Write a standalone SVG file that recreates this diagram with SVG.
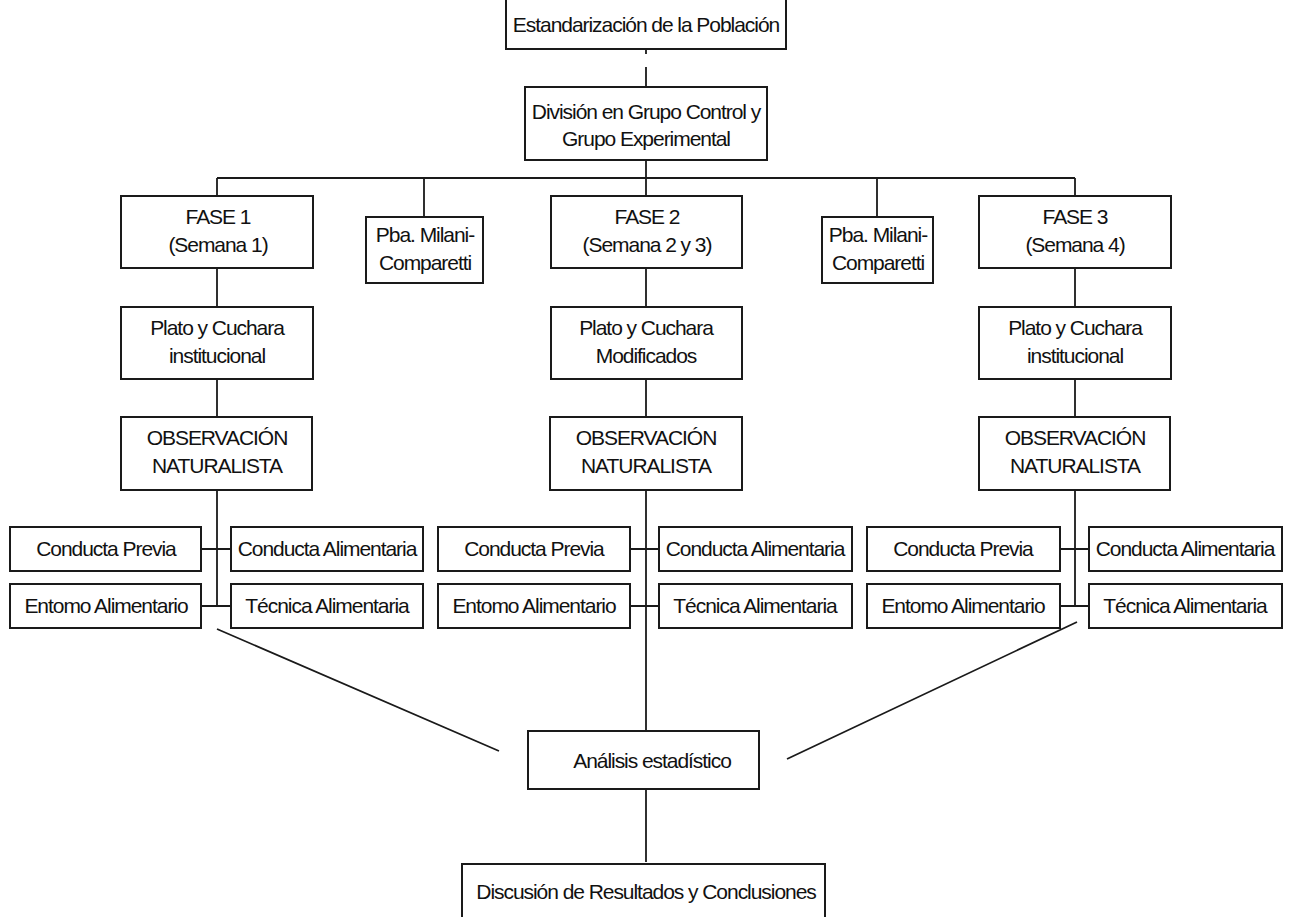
<svg xmlns="http://www.w3.org/2000/svg" width="1289" height="917" viewBox="0 0 1289 917">
<style>
.b{fill:#fff;stroke:#1a1a1a;stroke-width:2}
.t{font-family:"Liberation Sans",Arial,sans-serif;font-size:21px;letter-spacing:-1.05px;fill:#111;text-anchor:middle}
.c{fill:none;stroke:#1a1a1a;stroke-width:1.8}
</style>
<rect width="1289" height="917" fill="#fff"/>
<g id="connectors" class="c">
<path d="M646 49V54M646 67V87"/>
<path d="M646 160V178M217 178H1075M217 178V196M424 178V217M646 178V196M877 178V217M1075 178V196"/>
<path d="M217 268V307M217 379V417M217 490V606M201 549H231M201 606H231"/>
<path d="M646 268V307M646 379V417M646 490V731M630 549H659M630 606H659"/>
<path d="M1075 268V307M1075 379V417M1075 490V606M1060 549H1089M1060 606H1089"/>
<path d="M217 629L499 751M1077 622L787 759"/>
<path d="M646 789V862"/>
</g>
<g id="n-estandarizacion"><rect class="b" x="506" y="-3" width="280" height="52"/><text class="t" x="646" y="32">Estandarización de la Población</text></g>
<g id="n-division"><rect class="b" x="525" y="87" width="242" height="73"/><text class="t" x="646" y="119">División en Grupo Control y</text><text class="t" x="646" y="146">Grupo Experimental</text></g>
<g id="n-fase1"><rect class="b" x="121" y="196" width="192" height="72"/><text class="t" x="218" y="224">FASE 1</text><text class="t" x="218" y="252">(Semana 1)</text></g>
<g id="n-pba1"><rect class="b" x="366" y="217" width="117" height="66"/><text class="t" x="425" y="242">Pba. Milani-</text><text class="t" x="425" y="270">Comparetti</text></g>
<g id="n-fase2"><rect class="b" x="551" y="196" width="191" height="72"/><text class="t" x="647" y="224">FASE 2</text><text class="t" x="647" y="252">(Semana 2 y 3)</text></g>
<g id="n-pba2"><rect class="b" x="822" y="217" width="111" height="66"/><text class="t" x="878" y="242">Pba. Milani-</text><text class="t" x="878" y="270">Comparetti</text></g>
<g id="n-fase3"><rect class="b" x="979" y="196" width="192" height="72"/><text class="t" x="1075" y="224">FASE 3</text><text class="t" x="1075" y="252">(Semana 4)</text></g>
<g id="n-plato1"><rect class="b" x="121" y="307" width="192" height="72"/><text class="t" x="217" y="335">Plato y Cuchara</text><text class="t" x="217" y="363">institucional</text></g>
<g id="n-plato2"><rect class="b" x="551" y="307" width="191" height="72"/><text class="t" x="646" y="335">Plato y Cuchara</text><text class="t" x="646" y="363">Modificados</text></g>
<g id="n-plato3"><rect class="b" x="979" y="307" width="192" height="72"/><text class="t" x="1075" y="335">Plato y Cuchara</text><text class="t" x="1075" y="363">institucional</text></g>
<g id="n-obs1"><rect class="b" x="121" y="417" width="191" height="73"/><text class="t" x="217" y="445">OBSERVACIÓN</text><text class="t" x="217" y="473">NATURALISTA</text></g>
<g id="n-obs2"><rect class="b" x="550" y="417" width="192" height="73"/><text class="t" x="646" y="445">OBSERVACIÓN</text><text class="t" x="646" y="473">NATURALISTA</text></g>
<g id="n-obs3"><rect class="b" x="979" y="417" width="191" height="73"/><text class="t" x="1075" y="445">OBSERVACIÓN</text><text class="t" x="1075" y="473">NATURALISTA</text></g>
<g id="n-cp1"><rect class="b" x="10" y="527" width="191" height="44"/><text class="t" x="106" y="556">Conducta Previa</text></g>
<g id="n-ca1"><rect class="b" x="231" y="527" width="192" height="44"/><text class="t" x="327" y="556">Conducta Alimentaria</text></g>
<g id="n-ea1"><rect class="b" x="10" y="584" width="191" height="44"/><text class="t" x="106" y="613">Entomo Alimentario</text></g>
<g id="n-ta1"><rect class="b" x="231" y="584" width="192" height="44"/><text class="t" x="327" y="613">Técnica Alimentaria</text></g>
<g id="n-cp2"><rect class="b" x="438" y="527" width="192" height="44"/><text class="t" x="534" y="556">Conducta Previa</text></g>
<g id="n-ca2"><rect class="b" x="659" y="527" width="193" height="44"/><text class="t" x="755" y="556">Conducta Alimentaria</text></g>
<g id="n-ea2"><rect class="b" x="438" y="584" width="192" height="44"/><text class="t" x="534" y="613">Entomo Alimentario</text></g>
<g id="n-ta2"><rect class="b" x="659" y="584" width="193" height="44"/><text class="t" x="755" y="613">Técnica Alimentaria</text></g>
<g id="n-cp3"><rect class="b" x="867" y="527" width="193" height="44"/><text class="t" x="963" y="556">Conducta Previa</text></g>
<g id="n-ca3"><rect class="b" x="1089" y="527" width="193" height="44"/><text class="t" x="1185" y="556">Conducta Alimentaria</text></g>
<g id="n-ea3"><rect class="b" x="867" y="584" width="193" height="44"/><text class="t" x="963" y="613">Entomo Alimentario</text></g>
<g id="n-ta3"><rect class="b" x="1089" y="584" width="193" height="44"/><text class="t" x="1185" y="613">Técnica Alimentaria</text></g>
<g id="n-analisis"><rect class="b" x="528" y="731" width="231" height="58"/><text class="t" x="652" y="768">Análisis estadístico</text></g>
<g id="n-discusion"><rect class="b" x="462" y="864" width="363" height="60"/><text class="t" x="646" y="899">Discusión de Resultados y Conclusiones</text></g>
</svg>
